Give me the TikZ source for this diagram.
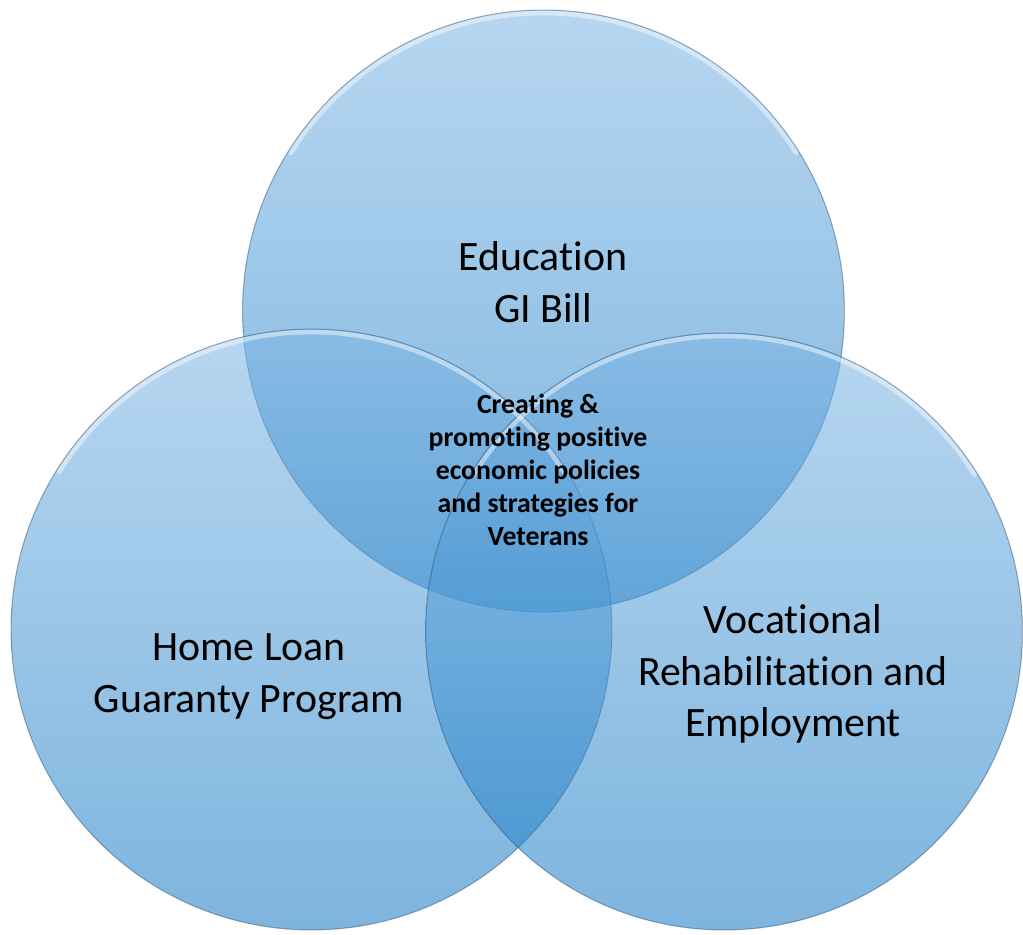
\documentclass[tikz,border=0pt]{standalone}
\usepackage{fontspec}
\setmainfont{Carlito}[RawFeature={-liga;-clig;-dlig;-calt;-ccmp;-rlig}]
\usepackage{tikz}
\usetikzlibrary{
  positioning
}
\definecolor{venntop}{RGB}{124,181,228}
\definecolor{vennbot}{RGB}{19,119,195}
\definecolor{vennrim}{RGB}{40,75,110}
\tikzset{
  x=0.02cm, y=-0.02cm,
  venn/.style={circle, minimum size=#1, inner sep=0pt,
    top color=venntop, bottom color=vennbot, fill opacity=0.55,
    draw=vennrim, draw opacity=0.45, line width=0.6pt},
  gloss/.style={white, line width=2.6pt, draw opacity=0.45, line cap=round},
  biglabel/.style={align=center, font=\fontsize{23.8}{29.5}\selectfont},
  corelabel/.style={align=center, font=\bfseries\fontsize{15.8}{18.7}\selectfont}
}

\begin{document}
\begin{tikzpicture}
    \useasboundingbox (0,0) rectangle (1023,934);
    % the three sets
    \node[venn=12.04cm] (edu) at (543.5,311) {};
    \node[venn=12.02cm] (home) at (311.5,629.5) {};
    \node[venn=11.94cm] (voc) at (724,631.5) {};
    % shine along the upper rims
    \draw[gloss] (edu.center) ++(32:5.96cm) arc[start angle=32, end angle=148, radius=5.96cm];
    \draw[gloss] (home.center) ++(32:5.95cm) arc[start angle=32, end angle=148, radius=5.95cm];
    \draw[gloss] (voc.center) ++(32:5.91cm) arc[start angle=32, end angle=148, radius=5.91cm];
    % texts
    \node[biglabel] (edutext) at (543,282) {Education\\GI Bill};
    \node[biglabel] (hometext) at (249,677) {Home Loan\\Guaranty Program};
    \node[biglabel] (voctext) at (793,674) {Vocational\\Rehabilitation and\\Employment};
    \node[corelabel] (core) at (538,470) {Creating \&\\promoting positive\\economic policies\\and strategies for\\Veterans};
  \end{tikzpicture}
\end{document}
